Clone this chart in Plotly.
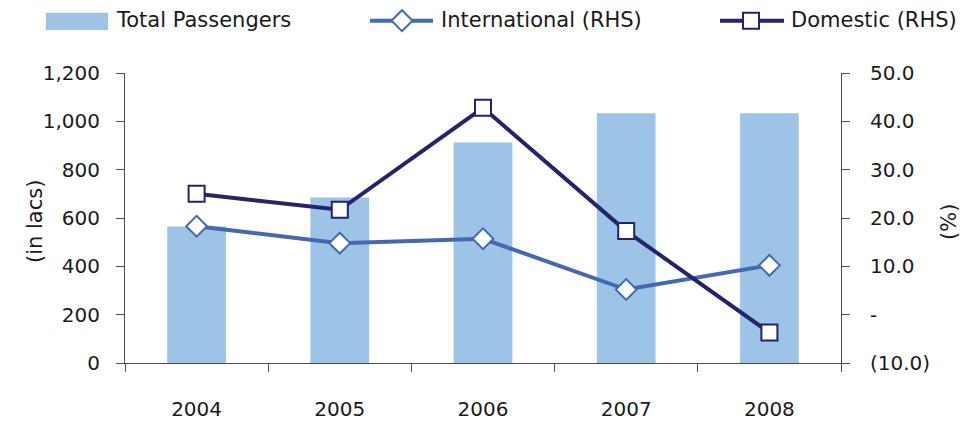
import plotly.graph_objects as go

years = ["2004", "2005", "2006", "2007", "2008"]
total_passengers = [565, 685, 912, 1033, 1033]
international = [18.3, 14.8, 15.7, 5.2, 10.2]
domestic = [25.0, 21.7, 42.8, 17.3, -3.7]

left_ticks = [0, 200, 400, 600, 800, 1000, 1200]
right_ticks = [-10, 0, 10, 20, 30, 40, 50]
right_tick_text = ["(10.0)", "-", "10.0", "20.0", "30.0", "40.0", "50.0"]

BAR_C = "#9DC3E6"
INT_C = "#4468B2"
DOM_C = "#23236E"
AX_C = "#4d4d4d"
TXT_C = "#1a1a1a"
FONT = "DejaVu Sans"

W, H = 974, 421
ML, MR, MT, MB = 125, 133, 73, 58
PW = W - ML - MR
PH = H - MT - MB


def px(x):
    return (x - ML) / PW


def py(y):
    return (H - MB - y) / PH


fig = go.Figure()
fig.add_trace(go.Bar(x=years, y=total_passengers, name="Total Passengers",
                     marker=dict(color=BAR_C, line=dict(width=0)), width=0.41,
                     yaxis="y"))
fig.add_trace(go.Scatter(x=years, y=international, name="International (RHS)",
                         mode="lines+markers", yaxis="y2",
                         line=dict(color=INT_C, width=4),
                         marker=dict(symbol="diamond", size=16, color="white",
                                     line=dict(color=INT_C, width=2))))
fig.add_trace(go.Scatter(x=years, y=domestic, name="Domestic (RHS)",
                         mode="lines+markers", yaxis="y2",
                         line=dict(color=DOM_C, width=4),
                         marker=dict(symbol="square", size=16, color="white",
                                     line=dict(color=DOM_C, width=2))))

shapes = []
annotations = []
LF = 21
# custom legend
shapes.append(dict(type="rect", xref="paper", yref="paper",
                   x0=px(46), x1=px(108), y0=py(30), y1=py(12.7),
                   fillcolor=BAR_C, line=dict(width=0), layer="above"))
annotations.append(dict(x=px(114), y=py(20), xref="paper", yref="paper",
                        text="Total Passengers", showarrow=False, xanchor="left",
                        yanchor="middle", font=dict(family=FONT, size=LF, color=TXT_C)))

ly = 20.7
shapes.append(dict(type="line", xref="paper", yref="paper",
                   x0=px(370), x1=px(433), y0=py(ly), y1=py(ly),
                   line=dict(color=INT_C, width=4)))
cx, r = 402, 10.5
shapes.append(dict(type="path", xref="paper", yref="paper",
                   path=f"M {px(cx - r)} {py(ly)} L {px(cx)} {py(ly - r)} L {px(cx + r)} {py(ly)} L {px(cx)} {py(ly + r)} Z",
                   fillcolor="white", line=dict(color=INT_C, width=2)))
annotations.append(dict(x=px(439), y=py(20), xref="paper", yref="paper",
                        text="International (RHS)", showarrow=False, xanchor="left",
                        yanchor="middle", font=dict(family=FONT, size=LF, color=TXT_C)))

shapes.append(dict(type="line", xref="paper", yref="paper",
                   x0=px(720), x1=px(784), y0=py(ly), y1=py(ly),
                   line=dict(color=DOM_C, width=4)))
cx, r = 751, 8
shapes.append(dict(type="rect", xref="paper", yref="paper",
                   x0=px(cx - r), x1=px(cx + r), y0=py(ly + r), y1=py(ly - r),
                   fillcolor="white", line=dict(color=DOM_C, width=2)))
annotations.append(dict(x=px(789), y=py(20), xref="paper", yref="paper",
                        text="Domestic (RHS)", showarrow=False, xanchor="left",
                        yanchor="middle", font=dict(family=FONT, size=LF, color=TXT_C)))

# axis titles
annotations.append(dict(x=px(35), y=py(222), xref="paper", yref="paper",
                        text="(in lacs)", showarrow=False, textangle=-90,
                        xanchor="center", yanchor="middle",
                        font=dict(family=FONT, size=21, color=TXT_C)))
annotations.append(dict(x=px(949), y=py(222), xref="paper", yref="paper",
                        text="(%)", showarrow=False, textangle=-90,
                        xanchor="center", yanchor="middle",
                        font=dict(family=FONT, size=21, color=TXT_C)))

fig.update_layout(
    width=W, height=H,
    margin=dict(l=ML, r=MR, t=MT, b=MB, pad=0, autoexpand=False),
    paper_bgcolor="white", plot_bgcolor="white",
    showlegend=False,
    font=dict(family=FONT, size=20, color=TXT_C),
    shapes=shapes, annotations=annotations,
    xaxis=dict(type="category", showline=True, linecolor=AX_C, linewidth=1,
               ticks="outside", tickson="boundaries", ticklen=8, tickcolor=AX_C,
               showgrid=False, ticklabelstandoff=28, automargin=False,
               tickfont=dict(family=FONT, size=20, color=TXT_C)),
    yaxis=dict(range=[0, 1200], tickvals=left_ticks, tickformat=",",
               showline=True, linecolor=AX_C, linewidth=1, ticks="outside",
               ticklen=8, tickcolor=AX_C, showgrid=False, zeroline=False,
               ticklabelstandoff=12, automargin=False,
               tickfont=dict(family=FONT, size=20, color=TXT_C)),
    yaxis2=dict(range=[-10, 50], tickvals=right_ticks, ticktext=right_tick_text,
                overlaying="y", side="right", showline=True, linecolor=AX_C,
                linewidth=1, ticks="outside", ticklen=8, tickcolor=AX_C,
                showgrid=False, zeroline=False, ticklabelstandoff=16,
                automargin=False,
                tickfont=dict(family=FONT, size=20, color=TXT_C)),
)

fig.write_html("out.html")
